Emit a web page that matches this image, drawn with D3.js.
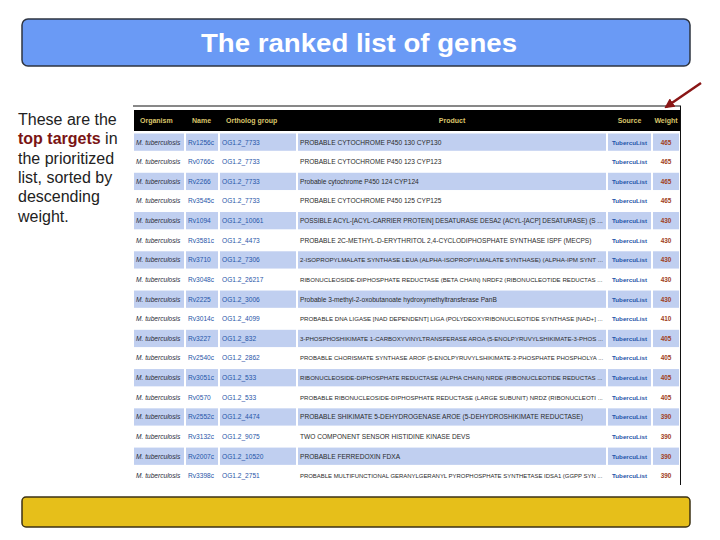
<!DOCTYPE html>
<html>
<head>
<meta charset="utf-8">
<script src="https://cdn.jsdelivr.net/npm/d3@7"></script>
<style>
  body { margin: 0; background: #fff; }
  svg { display: block; font-family: "Liberation Sans", Arial, sans-serif; }
</style>
</head>
<body>
<div id="chart"></div>
<script>
// Table contents
const organisms = Array(18).fill("M. tuberculosis");
const names = ["Rv1256c", "Rv0766c", "Rv2266", "Rv3545c", "Rv1094", "Rv3581c", "Rv3710", "Rv3048c", "Rv2225",
  "Rv3014c", "Rv3227", "Rv2540c", "Rv3051c", "Rv0570", "Rv2552c", "Rv3132c", "Rv2007c", "Rv3398c"];
const orthologs = ["OG1.2_7733", "OG1.2_7733", "OG1.2_7733", "OG1.2_7733", "OG1.2_10061", "OG1.2_4473", "OG1.2_7306",
  "OG1.2_26217", "OG1.2_3006", "OG1.2_4099", "OG1.2_832", "OG1.2_2862", "OG1.2_533", "OG1.2_533", "OG1.2_4474",
  "OG1.2_9075", "OG1.2_10520", "OG1.2_2751"];
const products = [
  "PROBABLE CYTOCHROME P450 130 CYP130",
  "PROBABLE CYTOCHROME P450 123 CYP123",
  "Probable cytochrome P450 124 CYP124",
  "PROBABLE CYTOCHROME P450 125 CYP125",
  "POSSIBLE ACYL-[ACYL-CARRIER PROTEIN] DESATURASE DESA2 (ACYL-[ACP] DESATURASE) (S ...",
  "PROBABLE 2C-METHYL-D-ERYTHRITOL 2,4-CYCLODIPHOSPHATE SYNTHASE ISPF (MECPS)",
  "2-ISOPROPYLMALATE SYNTHASE LEUA (ALPHA-ISOPROPYLMALATE SYNTHASE) (ALPHA-IPM SYNT ...",
  "RIBONUCLEOSIDE-DIPHOSPHATE REDUCTASE (BETA CHAIN) NRDF2 (RIBONUCLEOTIDE REDUCTAS ...",
  "Probable 3-methyl-2-oxobutanoate hydroxymethyltransferase PanB",
  "PROBABLE DNA LIGASE [NAD DEPENDENT] LIGA (POLYDEOXYRIBONUCLEOTIDE SYNTHASE [NAD+] ...",
  "3-PHOSPHOSHIKIMATE 1-CARBOXYVINYLTRANSFERASE AROA (5-ENOLPYRUVYLSHIKIMATE-3-PHOS ...",
  "PROBABLE CHORISMATE SYNTHASE AROF (5-ENOLPYRUVYLSHIKIMATE-3-PHOSPHATE PHOSPHOLYA ...",
  "RIBONUCLEOSIDE-DIPHOSPHATE REDUCTASE (ALPHA CHAIN) NRDE (RIBONUCLEOTIDE REDUCTAS ...",
  "PROBABLE RIBONUCLEOSIDE-DIPHOSPHATE REDUCTASE (LARGE SUBUNIT) NRDZ (RIBONUCLEOTI ...",
  "PROBABLE SHIKIMATE 5-DEHYDROGENASE AROE (5-DEHYDROSHIKIMATE REDUCTASE)",
  "TWO COMPONENT SENSOR HISTIDINE KINASE DEVS",
  "PROBABLE FERREDOXIN FDXA",
  "PROBABLE MULTIFUNCTIONAL GERANYLGERANYL PYROPHOSPHATE SYNTHETASE IDSA1 (GGPP SYN ..."
];
const sources = Array(18).fill("TubercuList");
const weights = [465, 465, 465, 465, 430, 430, 430, 430, 430, 410, 405, 405, 405, 405, 390, 390, 390, 390];
const headers = ["Organism", "Name", "Ortholog group", "Product", "Source", "Weight"];

const rows = names.map((n, i) => ({
  i, cells: [organisms[i], n, orthologs[i], products[i], sources[i], String(weights[i])]
}));

// Layout
const W = 720, H = 540;
const colEdges = [134, 185, 219, 297, 607, 652, 680];
const cellGap = 2;

// Per-column text styling
const colStyle = [
  { fill: "#2a2a3a", style: "italic", weight: "normal", anchor: "start",  size: 6.6 },
  { fill: "#1f55a8", style: "normal", weight: "normal", anchor: "start",  size: 6.6 },
  { fill: "#1f55a8", style: "normal", weight: "normal", anchor: "start",  size: 6.6 },
  { fill: "#2a2a2a", style: "normal", weight: "normal", anchor: "start",  size: 6.6 },
  { fill: "#1f55a8", style: "normal", weight: "bold",   anchor: "middle", size: 6.2 },
  { fill: "#a0401c", style: "normal", weight: "bold",   anchor: "middle", size: 6.4 }
];

const svg = d3.select("#chart").append("svg")
  .attr("width", W).attr("height", H);

// Title bar
svg.append("rect")
  .attr("x", 22).attr("y", 19).attr("width", 668).attr("height", 47)
  .attr("rx", 6)
  .attr("fill", "#6a9af5").attr("stroke", "#2e3440").attr("stroke-width", 1.5);
svg.append("text")
  .attr("x", 359).attr("y", 52)
  .attr("text-anchor", "middle")
  .attr("fill", "#fff").attr("font-weight", "bold").attr("font-size", 26)
  .attr("textLength", 316).attr("lengthAdjust", "spacingAndGlyphs")
  .text("The ranked list of genes");

// Bottom bar
svg.append("rect")
  .attr("x", 22).attr("y", 497).attr("width", 668).attr("height", 30)
  .attr("rx", 4)
  .attr("fill", "#e6bf1a").attr("stroke", "#3c3214").attr("stroke-width", 1.5);

// Left caption
const caption = [
  [["These are the", false]],
  [["top targets", true], [" in", false]],
  [["the prioritized", false]],
  [["list, sorted by", false]],
  [["descending", false]],
  [["weight.", false]]
];
const cap = svg.append("text")
  .attr("font-size", 16).attr("fill", "#222");
caption.forEach((line, li) => {
  line.forEach(([t, bold], k) => {
    const ts = cap.append("tspan").text(t);
    if (k === 0) ts.attr("x", 18).attr("y", 125 + li * 19.3);
    if (bold) ts.attr("font-weight", "bold").attr("fill", "#7a1414");
  });
});

// Table
const y = d3.scaleBand()
  .domain(d3.range(rows.length))
  .range([133.5, 484.5])
  .paddingInner(0.12);

const colX = i => colEdges[i] + (i === 0 ? 0 : cellGap / 2);
const colW = i => colEdges[i + 1] - colEdges[i] - (i === 0 ? cellGap / 2 : cellGap);

// frame lines
svg.append("line")
  .attr("x1", 133).attr("x2", 681).attr("y1", 106).attr("y2", 106)
  .attr("stroke", "#111").attr("stroke-width", 1);
svg.append("line")
  .attr("x1", 680.5).attr("x2", 680.5).attr("y1", 106).attr("y2", 485)
  .attr("stroke", "#111").attr("stroke-width", 1);

// header
const head = svg.append("g");
head.append("rect")
  .attr("x", 134).attr("y", 110).attr("width", 546).attr("height", 21)
  .attr("fill", "#000");
head.selectAll("text")
  .data(headers)
  .join("text")
  .attr("x", (d, i) => i >= 3 ? colX(i) + colW(i) / 2 : colX(i) + 6)
  .attr("y", 123)
  .attr("text-anchor", (d, i) => i >= 3 ? "middle" : "start")
  .attr("font-size", 7).attr("font-weight", "bold")
  .attr("fill", "#d9c46a")
  .text(d => d);

// body
const rowG = svg.append("g").selectAll("g")
  .data(rows)
  .join("g")
  .attr("transform", d => `translate(0,${y(d.i)})`);

rowG.selectAll("rect")
  .data(d => d.cells.map((c, k) => ({ k, shaded: d.i % 2 === 0 })))
  .join("rect")
  .attr("x", d => colX(d.k))
  .attr("width", d => colW(d.k))
  .attr("height", y.bandwidth())
  .attr("fill", d => d.shaded ? "#c0cff0" : "#fff");

rowG.selectAll("text")
  .data(d => d.cells.map((c, k) => ({ k, c })))
  .join("text")
  .attr("x", d => colStyle[d.k].anchor === "middle" ? colX(d.k) + colW(d.k) / 2 : colX(d.k) + 2)
  .attr("y", y.bandwidth() / 2 + 2.4)
  .attr("text-anchor", d => colStyle[d.k].anchor)
  .attr("font-size", d => colStyle[d.k].size)
  .attr("font-style", d => colStyle[d.k].style)
  .attr("font-weight", d => colStyle[d.k].weight)
  .attr("fill", d => colStyle[d.k].fill)
  .text(d => d.c)
  .each(function (d) {
    // shrink long cell texts until they fit their column
    const max = colW(d.k) - 5;
    const len = this.getComputedTextLength();
    if (len > max) {
      d3.select(this).attr("font-size", colStyle[d.k].size * max / len);
    }
  });

// arrow pointing at the Weight column
svg.append("defs").append("marker")
  .attr("id", "ah").attr("viewBox", "0 0 10 10")
  .attr("refX", 8).attr("refY", 5)
  .attr("markerWidth", 4).attr("markerHeight", 4)
  .attr("orient", "auto")
  .append("path").attr("d", "M0,0L10,5L0,10z").attr("fill", "#8a1616");
svg.append("line")
  .attr("x1", 701).attr("y1", 83).attr("x2", 666).attr("y2", 107)
  .attr("stroke", "#8a1616").attr("stroke-width", 2.5)
  .attr("marker-end", "url(#ah)");
</script>
</body>
</html>
